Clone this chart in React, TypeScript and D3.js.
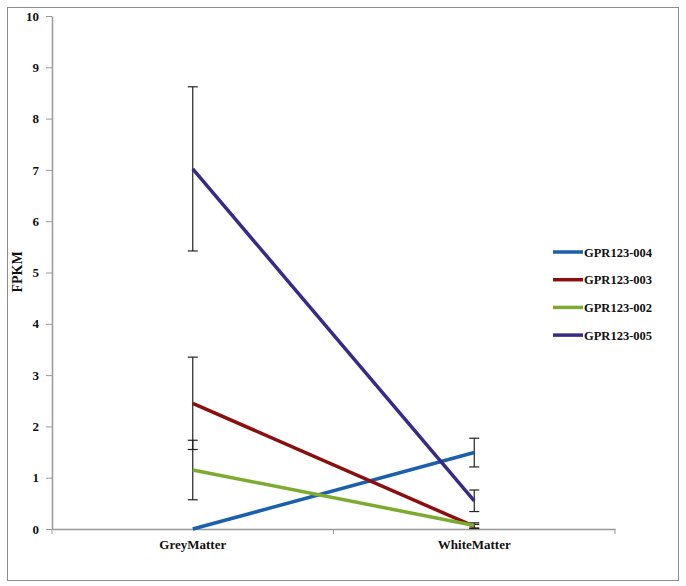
import { useEffect, useRef } from "react";
import * as d3 from "d3";

const categories = ["GreyMatter", "WhiteMatter"];
const seriesNames = ["GPR123-004", "GPR123-003", "GPR123-002", "GPR123-005"];
const seriesColors = ["#1c5faa", "#8a1010", "#7dab2f", "#3a2a86"];
const means = [
  [0, 1.49],
  [2.45, 0.05],
  [1.15, 0.07],
  [7.02, 0.55],
];
const errors = [
  [0, 0.28],
  [0.9, 0.04],
  [0.58, 0.05],
  [1.6, 0.21],
];
const yTicks = [0, 1, 2, 3, 4, 5, 6, 7, 8, 9, 10];

export default function App() {
  const ref = useRef<SVGSVGElement>(null);

  useEffect(() => {
    const svg = d3.select(ref.current);
    svg.selectAll("*").remove();
    const font = "'Liberation Serif', serif";

    svg.append("rect")
      .attr("x", 7.5).attr("y", 7.5).attr("width", 671).attr("height", 573)
      .attr("fill", "white").attr("stroke", "#8c8c8c");

    const x = d3.scaleBand().domain(categories).range([52, 615]);
    const y = d3.scaleLinear().domain([0, 10]).range([529, 16]);

    // y axis
    const yAxis = svg.append("g").attr("transform", "translate(52,0)")
      .call(d3.axisLeft(y).tickValues(yTicks).tickSize(6).tickSizeOuter(0));
    yAxis.select(".domain").attr("stroke", "#999").attr("stroke-width", 1.5);
    yAxis.selectAll(".tick line").attr("stroke", "#999");
    yAxis.selectAll(".tick text")
      .attr("font-family", font).attr("font-weight", "bold")
      .attr("font-size", 13).attr("fill", "#111").attr("x", -13);

    // x axis
    const xAxis = svg.append("g").attr("transform", "translate(0,529)")
      .call(d3.axisBottom(x).tickSize(0).tickSizeOuter(0).tickPadding(11));
    xAxis.select(".domain").attr("stroke", "#999").attr("stroke-width", 1.5);
    xAxis.selectAll(".tick text")
      .attr("font-family", font).attr("font-weight", "bold")
      .attr("font-size", 13).attr("fill", "#111");
    const bounds = [52, ...categories.map((c) => (x(c) as number) + x.bandwidth())];
    xAxis.selectAll(".sep").data(bounds).enter().append("line")
      .attr("x1", (d) => d).attr("x2", (d) => d)
      .attr("y1", 0).attr("y2", 5).attr("stroke", "#999");

    svg.append("text")
      .attr("transform", "translate(22,272) rotate(-90)")
      .attr("text-anchor", "middle")
      .attr("font-family", font).attr("font-weight", "bold")
      .attr("font-size", 14).attr("fill", "#111")
      .text("FPKM");

    const cx = (c: string) => (x(c) as number) + x.bandwidth() / 2;

    // error bars
    const eg = svg.append("g");
    means.forEach((row, si) => {
      row.forEach((v, ci) => {
        const e = errors[si][ci];
        if (!e) return;
        const px = cx(categories[ci]);
        eg.append("line").attr("x1", px).attr("x2", px)
          .attr("y1", y(v - e)).attr("y2", y(v + e))
          .attr("stroke", "#222").attr("stroke-width", 1.2);
        [v - e, v + e].forEach((b) => {
          eg.append("line").attr("x1", px - 5).attr("x2", px + 5)
            .attr("y1", y(b)).attr("y2", y(b))
            .attr("stroke", "#222").attr("stroke-width", 1.2);
        });
      });
    });

    // lines
    const line = d3.line<number>()
      .x((_, i) => cx(categories[i]))
      .y((d) => y(d));
    means.forEach((row, si) => {
      svg.append("path").datum(row)
        .attr("fill", "none").attr("stroke", seriesColors[si])
        .attr("stroke-width", 3.5).attr("d", line);
    });

    // legend
    const lg = svg.append("g");
    seriesNames.forEach((n, i) => {
      const ly = 252 + i * 27.7;
      lg.append("line").attr("x1", 553).attr("x2", 583)
        .attr("y1", ly).attr("y2", ly)
        .attr("stroke", seriesColors[i]).attr("stroke-width", 3.5);
      lg.append("text").attr("x", 584).attr("y", ly + 4.5)
        .attr("font-family", font).attr("font-weight", "bold")
        .attr("font-size", 12.5).attr("fill", "#111").text(n);
    });
  }, []);

  return (
    <svg ref={ref} width={686} height={586}
      style={{ position: "absolute", left: 0, top: 0, background: "white" }} />
  );
}
